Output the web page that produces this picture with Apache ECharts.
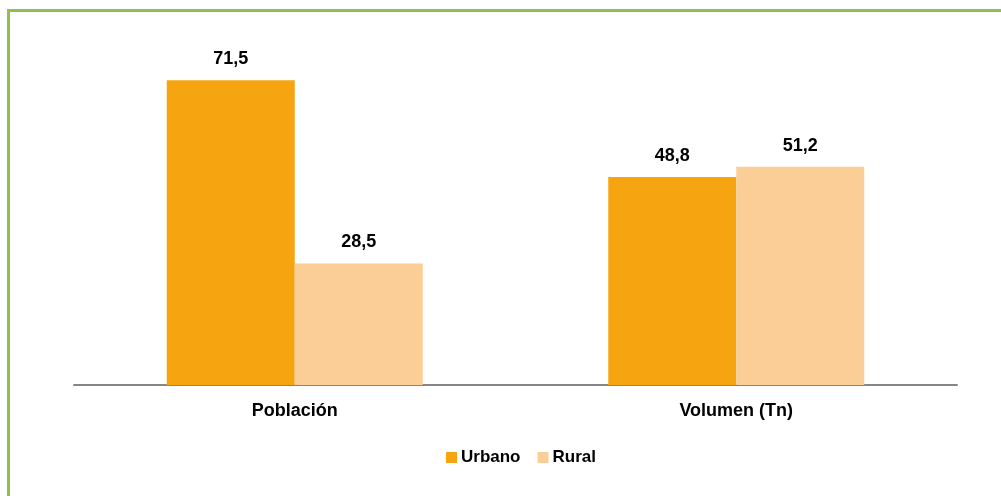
<!DOCTYPE html>
<html><head><meta charset="utf-8">
<script src="https://cdn.jsdelivr.net/npm/echarts@6/dist/echarts.min.js"></script>
<style>
html,body{margin:0;padding:0;background:#fff;overflow:hidden}
#frame{position:absolute;left:7px;top:9px;width:1100px;height:600px;border:3px solid #92BD50;box-sizing:border-box}
#chart{position:absolute;left:0;top:0;width:1001px;height:496px}
</style></head>
<body>
<div id="frame"></div>
<div id="chart"></div>
<script>
const categories = ['Población', 'Volumen (Tn)'];
const urbano = [71.5, 48.8];
const rural = [28.5, 51.2];
const seriesNames = ['Urbano', 'Rural'];

const font = '"Liberation Sans Narrow", "Arial Narrow", "Liberation Sans", Arial, sans-serif';
const chart = echarts.init(document.getElementById('chart'));
const label = {
  show: true, position: 'top', distance: 12,
  fontFamily: font, fontWeight: 'bold', fontSize: 18, color: '#000',
  formatter: p => String(p.value).replace('.', ',')
};
chart.setOption({
  animation: false,
  grid: { left: 74, right: 44, top: 44, bottom: 111 },
  legend: {
    bottom: 30, left: 446, padding: 0, itemWidth: 11, itemHeight: 11, itemGap: 17,
    icon: 'rect',
    textStyle: { fontFamily: font, fontWeight: 'bold', fontSize: 17, color: '#000', padding: [0, 0, 0, -1] },
    data: seriesNames
  },
  xAxis: {
    type: 'category', data: categories,
    axisLine: { lineStyle: { color: '#868686', width: 2 } },
    axisTick: { show: false },
    axisLabel: { fontFamily: font, fontWeight: 'bold', fontSize: 18, color: '#000', margin: 17 }
  },
  yAxis: { type: 'value', min: 0, max: 80, show: false, splitLine: { show: false } },
  series: [
    { name: seriesNames[0], type: 'bar', data: urbano, barWidth: 128, barGap: '0%',
      itemStyle: { color: '#F6A410' }, label },
    { name: seriesNames[1], type: 'bar', data: rural, barWidth: 128, barGap: '0%',
      itemStyle: { color: '#FACE96' }, label }
  ]
});
</script>
</body></html>
